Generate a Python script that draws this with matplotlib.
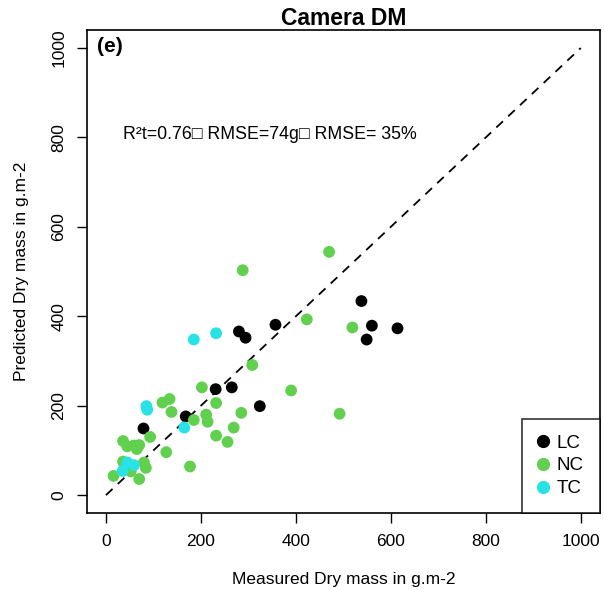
import matplotlib
matplotlib.use("Agg")
import matplotlib.pyplot as plt
from matplotlib.lines import Line2D

plt.rcParams['font.family'] = ['Liberation Sans', 'DejaVu Sans']

# measured vs predicted dry mass (g.m-2)
lc_meas = [357, 280, 294, 231, 265, 324, 168, 79, 538, 560, 549, 614]
lc_pred = [381, 366, 352, 237, 241, 199, 176, 149, 434, 379, 348, 373]

nc_meas = [288, 423, 308, 390, 202, 232, 119, 134, 138, 211, 214, 185, 285,
           269, 232, 256, 93, 127, 177, 36, 45, 59, 70, 65, 36, 80, 84, 16,
           52, 70, 470, 519, 492]
nc_pred = [503, 393, 291, 234, 241, 206, 207, 215, 186, 180, 164, 168, 184,
           151, 133, 119, 130, 96, 64, 121, 109, 111, 112, 103, 75, 73, 61, 43,
           53, 36, 544, 375, 182]

tc_meas = [232, 185, 85, 87, 165, 35, 59, 45]
tc_pred = [362, 348, 199, 191, 151, 54, 67, 73]

groups = ['LC', 'NC', 'TC']
colors = ['black', '#61D04F', '#28E2E5']

fig = plt.figure(figsize=(6.04, 5.9), dpi=100)
ax = fig.add_axes([0.144, 0.1305, 0.849, 0.8185])

ax.plot([0, 1000], [0, 1000], color='black', linestyle=(0, (5, 4)), linewidth=1.3)

for (mx, py), c in zip([(lc_meas, lc_pred), (nc_meas, nc_pred), (tc_meas, tc_pred)], colors):
    ax.scatter(mx, py, s=72, color=c, edgecolors='none', zorder=3)

ax.set_xlim(-40, 1040)
ax.set_ylim(-40, 1040)
ticks = [0, 200, 400, 600, 800, 1000]
ax.set_xticks(ticks)
ax.set_yticks(ticks)
ax.set_yticklabels([str(t) for t in ticks], rotation=90, va='center')
ax.tick_params(direction='out', length=7, width=1, labelsize=12.5, pad=8)
for s in ax.spines.values():
    s.set_linewidth(1.2)

ax.set_xlabel('Measured Dry mass in g.m-2', fontsize=12.5, labelpad=17)
ax.set_ylabel('Predicted Dry mass in g.m-2', fontsize=12.5, labelpad=16)
ax.set_title('Camera DM', fontsize=16.5, fontweight='bold', pad=3)

ax.text(-18, 1003, '(e)', fontsize=15, fontweight='bold', va='center', ha='left')
ax.text(35, 807, 'R²t=0.76\u25a1 RMSE=74g\u25a1 RMSE= 35%', fontsize=12.8, va='center', ha='left')

handles = [Line2D([], [], marker='o', linestyle='none', color=c, markersize=8.5) for c in colors]
leg = ax.legend(handles, groups, loc='lower right', borderaxespad=0, fancybox=False,
                edgecolor='black', fontsize=13.5, handletextpad=0.5, borderpad=0.85,
                labelspacing=0.3, handlelength=0.5)
leg.get_frame().set_linewidth(1.2)

fig.savefig('out.png', dpi=100)
